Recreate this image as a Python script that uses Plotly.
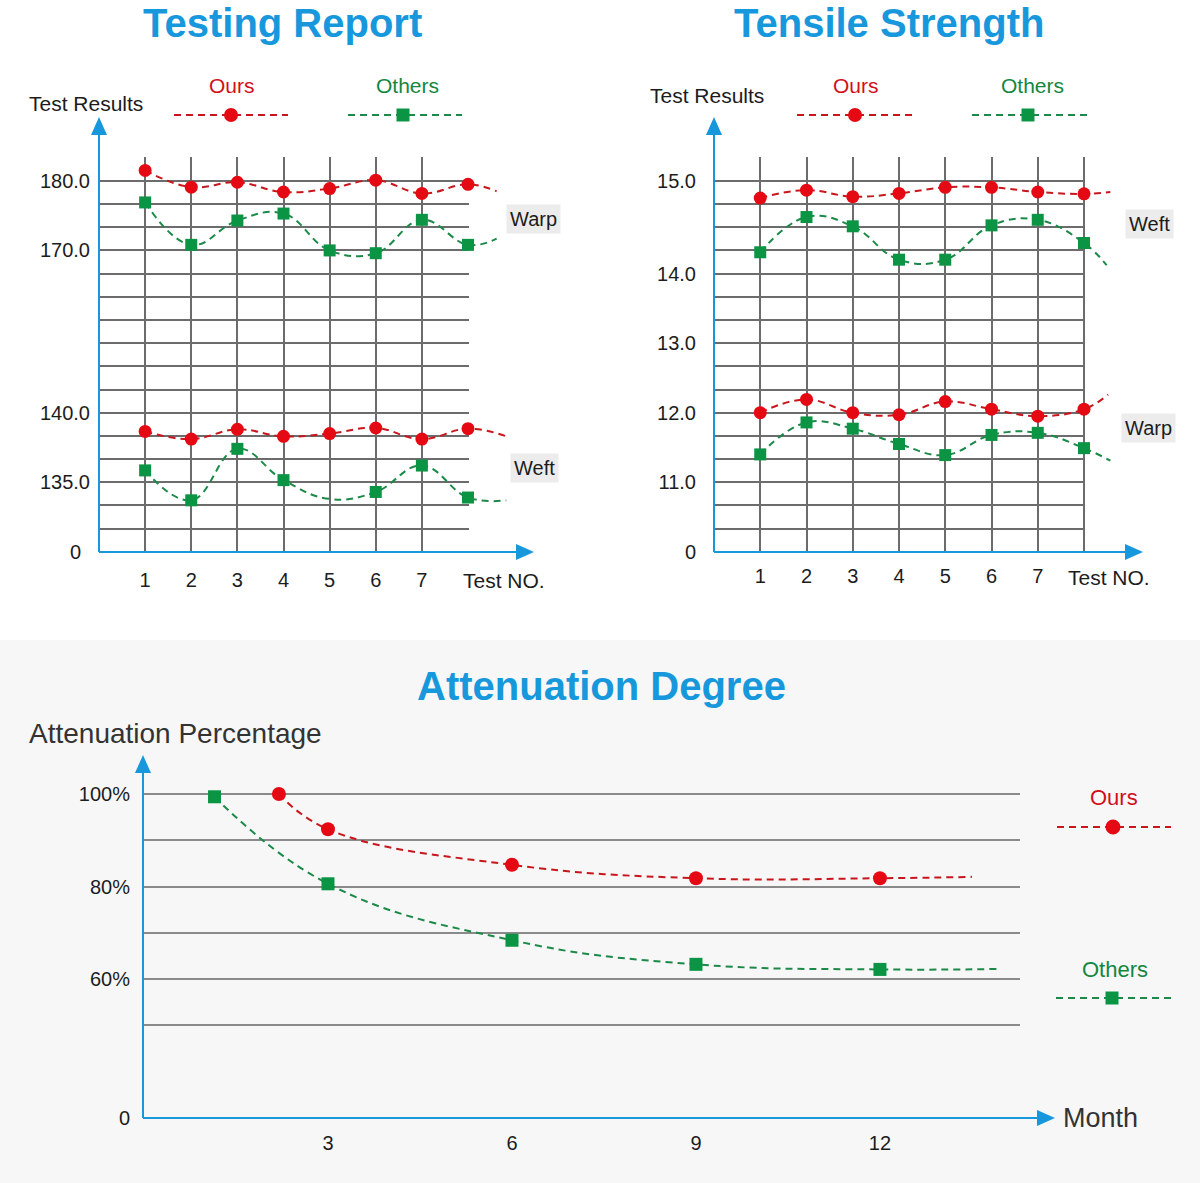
import plotly.graph_objects as go

W, H = 1200, 1183

# test numbers along the two top charts (the 8th sits under "Test NO.")
test_no = [1, 2, 3, 4, 5, 6, 7, 8]
test_labels = ['1', '2', '3', '4', '5', '6', '7', '']

# Testing Report
report_warp_ours = [181.5, 179.1, 179.8, 178.4, 178.9, 180.1, 178.2, 179.5]
report_warp_others = [176.9, 170.8, 174.3, 175.3, 170.0, 169.6, 174.4, 170.8]
report_weft_ours = [138.65, 138.1, 138.8, 138.3, 138.5, 138.9, 138.1, 138.85]
report_weft_others = [135.85, 133.7, 137.4, 135.15, 133.8, 134.3, 136.2, 133.9]
report_weft_others_nomark = [5]  # curve passes test 5 with no marker
# where each dashed curve runs out after test 8: (test no., value)
report_warp_ours_end = (8.62, 178.5)
report_warp_others_end = (8.62, 171.7)
report_weft_ours_end = (8.83, 138.3)
report_weft_others_end = (8.83, 133.7)
report_ticks_warp = [170, 180]
report_ticks_weft = [135, 140]

# Tensile Strength
tensile_weft_ours = [14.815, 14.90, 14.83, 14.865, 14.93, 14.93, 14.88, 14.86]
tensile_weft_others = [14.23, 14.61, 14.51, 14.15, 14.15, 14.52, 14.58, 14.33]
tensile_warp_ours = [12.0, 12.19, 12.0, 11.97, 12.16, 12.05, 11.95, 12.05]
tensile_warp_others = [11.40, 11.86, 11.77, 11.55, 11.39, 11.68, 11.71, 11.49]
tensile_weft_ours_end = (8.57, 14.88)
tensile_weft_others_end = (8.49, 14.09)
tensile_warp_ours_end = (8.52, 12.26)
tensile_warp_others_end = (8.57, 11.31)
tensile_ticks_weft = [14, 15]
tensile_ticks_warp = [11, 12, 13]

# Attenuation Degree
att_months_ours = [2.2, 3, 6, 9, 12]
att_ours = [100, 92.4, 84.7, 81.8, 81.8]
att_ours_end = (13.5, 82.1)
att_months_others = [1.15, 3, 6, 9, 12]
att_others = [99.4, 80.6, 68.4, 63.2, 62.1]
att_others_end = (13.93, 62.2)
month_ticks = [3, 6, 9, 12]
pct_ticks = [30, 50, 60, 70, 80, 90, 100]
pct_labels = ['0', '', '60%', '', '80%', '', '100%']

FONT = 'Liberation Sans, Arial, Helvetica, sans-serif'
BLUE = '#1898dc'
RED = '#e50914'
RED_LINE = '#c8161d'
RED_TEXT = '#d10f1b'
GREEN = '#0b9444'
GREEN_LINE = '#1b8a48'
GREEN_TEXT = '#13873f'
GRID = '#6c6c6c'
TEXT = '#1c1c1c'
DASH = '7px,5px'


# pixel -> paper helpers (figure size is fixed, margins are zero)
def fx(x):
    return x / W


def fy(y):
    return 1 - y / H


fig = go.Figure()


def add_series(xs, ys, end, line_color, marker_color, symbol, size, xa, ya, nomark=()):
    fig.add_trace(go.Scatter(
        x=list(xs) + [end[0]], y=list(ys) + [end[1]], xaxis=xa, yaxis=ya, mode='lines',
        line=dict(color=line_color, width=2, dash=DASH, shape='spline', smoothing=1.2),
        hoverinfo='skip'))
    mx = [x for x in xs if x not in nomark]
    my = [y for x, y in zip(xs, ys) if x not in nomark]
    fig.add_trace(go.Scatter(
        x=mx, y=my, xaxis=xa, yaxis=ya, mode='markers', cliponaxis=False,
        marker=dict(color=marker_color, symbol=symbol, size=size, line=dict(width=0)),
        hoverinfo='skip'))


# grid box of the top charts: 17 rows between y=157 and y=552
GRID_TOP, GRID_BOTTOM, N_ROWS = 157, 552, 17


def top_panel(gx, gy, dx, dy_up, dy_lo, x0, x1, up, lo, xl_pad, yl_pad, yz_pad):
    col_w = (x1 - x0) / 8
    dom_y = [fy(GRID_BOTTOM), fy(GRID_TOP)]
    tickfont = dict(size=20, color=TEXT, family=FONT)
    axes = {}
    axes['xaxis' + gx] = dict(
        domain=[fx(x0), fx(x1 + 1)], range=[0, (x1 + 1 - x0) / col_w], anchor='y' + gy,
        tickvals=test_no, ticktext=test_labels, showgrid=True, gridcolor=GRID, gridwidth=1.5,
        zeroline=False, showline=False, ticks='', ticklabelstandoff=xl_pad, tickfont=tickfont,
        automargin=False)
    axes['yaxis' + gy] = dict(
        domain=dom_y, range=[-0.01, N_ROWS + 0.03], anchor='x' + gx,
        tickvals=list(range(N_ROWS + 1)), ticktext=['0'] + [''] * N_ROWS,
        showgrid=True, gridcolor=GRID, gridwidth=1.5, zeroline=False, showline=False,
        ticks='', ticklabelstandoff=yz_pad, tickfont=tickfont, automargin=False)
    axes['xaxis' + dx] = dict(domain=[fx(x0), fx(x0 + 470)], range=[0, 470 / col_w],
                              anchor='y' + dy_up, visible=False, automargin=False)
    for key, (ticks, rows) in (('yaxis' + dy_up, up), ('yaxis' + dy_lo, lo)):
        per_row = (ticks[-1] - ticks[0]) / (rows[-1] - rows[0])
        low = ticks[0] - rows[0] * per_row
        axes[key] = dict(
            domain=dom_y, range=[low - 0.01 * per_row, low + (N_ROWS + 0.03) * per_row],
            anchor='x' + dx, tickvals=ticks, tickformat='.1f', showgrid=False, zeroline=False,
            showline=False, ticks='', ticklabelstandoff=yl_pad, tickfont=tickfont,
            automargin=False)
    return axes


layout_axes = {}
layout_axes.update(top_panel('', '', '2', '2', '3', 99, 468,
                             (report_ticks_warp, (13, 16)), (report_ticks_weft, (3, 6)),
                             14, 8, 17))
layout_axes.update(top_panel('3', '4', '4', '5', '6', 714, 1084,
                             (tensile_ticks_weft, (12, 16)), (tensile_ticks_warp, (3, 9)),
                             10, 17, 17))

# attenuation chart: month 0 at x=144, 61.33 px per month;
# 100% at y=794 and the broken-axis "0" (30) at y=1118
M0, M_PX = 144, 61.33
P100, P30 = 794, 1118
P_PX = (P30 - P100) / 70
layout_axes['xaxis5'] = dict(
    domain=[fx(143), fx(1020)], range=[(143 - M0) / M_PX, (1020 - M0) / M_PX], anchor='y7',
    tickvals=month_ticks, showgrid=False, zeroline=False, showline=False, ticks='',
    ticklabelstandoff=10, tickfont=dict(size=20, color=TEXT, family=FONT), automargin=False)
layout_axes['yaxis7'] = dict(
    domain=[fy(1119), fy(760)], range=[100 - (1119 - P100) / P_PX, 100 + (P100 - 760) / P_PX],
    anchor='x5', tickvals=pct_ticks, ticktext=pct_labels, showgrid=True, gridcolor='#8a8a8a',
    gridwidth=2, zeroline=False, showline=False, ticks='', ticklabelstandoff=12,
    tickfont=dict(size=20, color=TEXT, family=FONT), automargin=False)

# empty traces so the grid subplots get drawn
fig.add_trace(go.Scatter(x=[], y=[], xaxis='x', yaxis='y'))
fig.add_trace(go.Scatter(x=[], y=[], xaxis='x3', yaxis='y4'))

# Testing Report
add_series(test_no, report_warp_ours, report_warp_ours_end, RED_LINE, RED, 'circle', 13, 'x2', 'y2')
add_series(test_no, report_warp_others, report_warp_others_end, GREEN_LINE, GREEN, 'square', 12, 'x2', 'y2')
add_series(test_no, report_weft_ours, report_weft_ours_end, RED_LINE, RED, 'circle', 13, 'x2', 'y3')
add_series(test_no, report_weft_others, report_weft_others_end, GREEN_LINE, GREEN, 'square', 12, 'x2', 'y3',
           nomark=report_weft_others_nomark)

# Tensile Strength
add_series(test_no, tensile_weft_ours, tensile_weft_ours_end, RED_LINE, RED, 'circle', 13, 'x4', 'y5')
add_series(test_no, tensile_weft_others, tensile_weft_others_end, GREEN_LINE, GREEN, 'square', 12, 'x4', 'y5')
add_series(test_no, tensile_warp_ours, tensile_warp_ours_end, RED_LINE, RED, 'circle', 13, 'x4', 'y6')
add_series(test_no, tensile_warp_others, tensile_warp_others_end, GREEN_LINE, GREEN, 'square', 12, 'x4', 'y6')

# Attenuation Degree
add_series(att_months_ours, att_ours, att_ours_end, RED_LINE, RED, 'circle', 14, 'x5', 'y7')
add_series(att_months_others, att_others, att_others_end, GREEN_LINE, GREEN, 'square', 13, 'x5', 'y7')

annotations = []
shapes = [dict(type='rect', xref='paper', yref='paper', x0=0, x1=1, y0=0, y1=fy(640),
               fillcolor='#f7f7f7', line=dict(width=0), layer='below')]


def text(s, x, y, size, color=TEXT, bold=False, yanchor='middle', **kw):
    annotations.append(dict(
        text=s, x=fx(x), y=fy(y), xref='paper', yref='paper', showarrow=False,
        xanchor='center', yanchor=yanchor,
        font=dict(size=size, color=color, family=FONT, weight=700 if bold else 400), **kw))


def path(points):
    return 'M ' + ' L '.join(f'{fx(px):.5f},{fy(py):.5f}' for px, py in points) + ' Z'


def axis_arrow(x0, y0, x1, y1, head=18, half=8):
    # blue axis line with a filled triangle at (x1, y1); axis lines are horizontal or vertical
    if x0 == x1:
        base = y1 + head
        tri = [(x1 - half, base), (x1 + half, base), (x1, y1)]
        end = (x1, base)
    else:
        base = x1 - head
        tri = [(base, y1 - half), (base, y1 + half), (x1, y1)]
        end = (base, y1)
    shapes.append(dict(type='line', xref='paper', yref='paper', x0=fx(x0), y0=fy(y0),
                       x1=fx(end[0]), y1=fy(end[1]), line=dict(color=BLUE, width=2)))
    shapes.append(dict(type='path', xref='paper', yref='paper', path=path(tri),
                       fillcolor=BLUE, line=dict(width=0)))


def legend_key(x_left, x_right, y, cx, line_color, marker_color, symbol, size):
    shapes.append(dict(type='line', xref='paper', yref='paper', x0=fx(x_left), x1=fx(x_right),
                       y0=fy(y), y1=fy(y), line=dict(color=line_color, width=2, dash=DASH)))
    r = size / 2
    shapes.append(dict(type='circle' if symbol == 'circle' else 'rect', xref='paper', yref='paper',
                       x0=fx(cx - r), x1=fx(cx + r), y0=fy(y + r), y1=fy(y - r),
                       fillcolor=marker_color, line=dict(width=0)))


# titles (the two top ones sit right against the top edge)
text('Testing Report', 282, 0, 40, BLUE, bold=True, yanchor='top', borderpad=0)
text('Tensile Strength', 889, 0, 40, BLUE, bold=True, yanchor='top', borderpad=0)
text('Attenuation Degree', 601, 686, 40, BLUE, bold=True)

# top-left panel
text('Test Results', 86, 103, 21)
text('Ours', 232, 85, 21, RED_TEXT)
text('Others', 407, 85, 21, GREEN_TEXT)
legend_key(174, 288, 115, 231, RED_LINE, RED, 'circle', 14)
legend_key(348, 462, 115, 403, GREEN_LINE, GREEN, 'square', 13)
text('Test NO.', 504, 580, 21)
text('Warp', 533, 219, 20, bgcolor='#ececec', borderpad=3)
text('Weft', 534, 468, 20, bgcolor='#ececec', borderpad=3)
axis_arrow(99, 552, 99, 117)
axis_arrow(99, 552, 534, 552)

# top-right panel
text('Test Results', 707, 95, 21)
text('Ours', 856, 85, 21, RED_TEXT)
text('Others', 1032, 85, 21, GREEN_TEXT)
legend_key(797, 912, 115, 855, RED_LINE, RED, 'circle', 14)
legend_key(972, 1087, 115, 1028, GREEN_LINE, GREEN, 'square', 13)
text('Test NO.', 1109, 577, 21)
text('Weft', 1149, 224, 20, bgcolor='#ececec', borderpad=3)
text('Warp', 1148, 428, 20, bgcolor='#ececec', borderpad=3)
axis_arrow(714, 552, 714, 117)
axis_arrow(714, 552, 1143, 552)

# bottom panel
text('Attenuation Percentage', 175, 733, 28, '#333333')
text('Month', 1100, 1118, 27, '#333333')
text('Ours', 1114, 797, 22, RED_TEXT)
text('Others', 1115, 969, 22, GREEN_TEXT)
legend_key(1057, 1171, 827, 1113, RED_LINE, RED, 'circle', 15)
legend_key(1056, 1171, 998, 1112, GREEN_LINE, GREEN, 'square', 13)
axis_arrow(143, 1118, 143, 755)
axis_arrow(143, 1118, 1055, 1118)

fig.update_layout(
    width=W, height=H, margin=dict(l=0, r=0, t=0, b=0, pad=0, autoexpand=False),
    paper_bgcolor='white', plot_bgcolor='rgba(0,0,0,0)', showlegend=False,
    font=dict(family=FONT, color=TEXT), annotations=annotations, shapes=shapes,
    **layout_axes)

# drop the browser's default body margin so the figure sits at the page corner
page_css = ("var s=document.documentElement.style, b=document.body.style;"
            "s.margin='0';s.overflow='hidden';b.margin='0';b.overflow='hidden';")
fig.write_html("out.html", config={'displayModeBar': False}, post_script=page_css)
